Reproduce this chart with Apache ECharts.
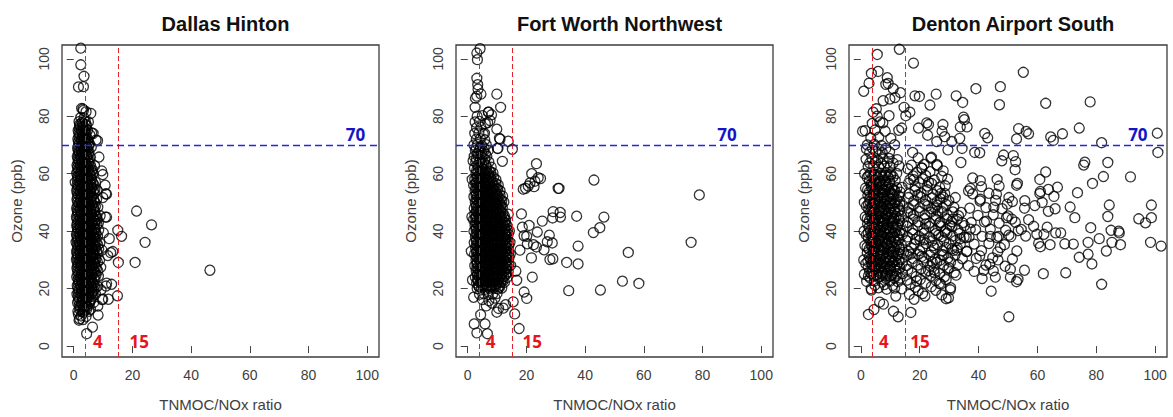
<!DOCTYPE html>
<html>
<head>
<meta charset="utf-8">
<script src="https://cdn.jsdelivr.net/npm/echarts@6/dist/echarts.min.js"></script>
<style>
html,body{margin:0;padding:0;background:#fff;}
#chart{width:1173px;height:417px;}
</style>
</head>
<body>
<div id="chart"></div>
<script>
const titles = ['Dallas Hinton', 'Fort Worth Northwest', 'Denton Airport South'];
const xTicks = [0, 20, 40, 60, 80, 100];
const yTicks = [0, 20, 40, 60, 80, 100];
const ratioThresholds = [4, 15];
const ozoneThreshold = 70;

const dallas = [
[46.4,26.4],[21.4,47.0],[26.5,42.2],[24.3,36.1],[20.9,29.1],[16.3,38.2],[15.0,40.3],[15.2,29.1],[14.9,17.5],[12.6,32.5],
[12.9,21.5],[11.8,16.3],[11.2,44.9],[11.2,52.9],[10.7,56],[9.5,61],[8.6,65.8],[8.1,71.5],[6.1,74.2],[5.8,81],
[2.7,82.7],[3.5,93.9],[2.4,97.9],[1.6,90.2],[3.3,90.3],[2.4,103.7],[4.4,4.3],[6.4,6.6],[8.3,10.8],[5.7,12.8],
[2.0,9.5],[3.3,11.8],[8.2,13.9],[9.3,19.6],[9.6,16.2],[11.2,21.9],[9.9,16.3],[11,20.9],[13.3,32.9],[12.1,37.4],
[10.8,44.9],[9.9,51.7],[11.6,31.5],[3.1,82.5],[6.6,74],[9.9,59.7],[10.9,53],[7.6,71.7],
[1.8,9],[3.1,9.2],[2.5,10.5],[4.2,10.3],[1.6,11],
[1.4,12.2],[2.9,12],[3.8,12.4],[5.1,12.1],[2.2,13.6],[3.5,13.4],[4.6,13.8],
[1.3,15.1],[2.6,15],[3.9,15.3],[5.4,14.9],[6.8,15.2],[1.9,16.6],[3.2,16.4],[4.4,16.7],[5.9,16.5],
[1.1,18],[2.4,18.2],[3.6,17.9],[4.8,18.1],[6.2,18.3],[7.4,18],[1.7,19.6],[2.9,19.4],[4.1,19.7],[5.5,19.5],[6.7,19.4],
[1.2,21],[2.3,21.2],[3.4,20.9],[4.6,21.1],[5.8,21.3],[7.0,21],[8.1,20.8],[1.8,22.6],[2.8,22.4],[3.9,22.7],[5.1,22.5],[6.3,22.3],
[1.0,24.1],[2.2,23.9],[3.3,24.2],[4.4,24],[5.6,24.1],[6.9,23.8],[8.4,24.3],[1.6,25.6],[2.7,25.4],[3.8,25.7],[5.0,25.5],[6.1,25.3],[7.3,25.6],
[1.1,27],[2.1,27.2],[3.2,26.9],[4.3,27.1],[5.4,27.3],[6.6,26.8],[7.8,27.1],[9.2,27.4],[1.5,28.6],[2.6,28.4],[3.7,28.7],[4.9,28.5],[6.0,28.3],[7.1,28.6],
[0.9,30.1],[2.0,29.9],[3.1,30.2],[4.2,30],[5.3,29.8],[6.5,30.1],[7.6,30.3],[8.8,29.9],[1.4,31.6],[2.5,31.4],[3.6,31.7],[4.7,31.5],[5.9,31.3],[7.0,31.6],
[1.0,33],[2.1,33.2],[3.2,32.9],[4.3,33.1],[5.5,33.3],[6.7,32.8],[7.9,33.1],[9.6,33.4],[1.6,34.6],[2.7,34.4],[3.8,34.7],[5.0,34.5],[6.2,34.3],[7.4,34.6],
[0.8,36.1],[1.9,35.9],[3.0,36.2],[4.1,36],[5.2,35.8],[6.4,36.1],[7.7,36.3],[8.9,35.9],[1.3,37.6],[2.4,37.4],[3.5,37.7],[4.6,37.5],[5.8,37.3],[7.0,37.6],
[0.9,39],[2.0,39.2],[3.1,38.9],[4.2,39.1],[5.3,39.3],[6.5,38.8],[7.6,39.1],[10.1,39.4],[1.5,40.6],[2.6,40.4],[3.7,40.7],[4.9,40.5],[6.1,40.3],[7.3,40.6],[8.5,40.4],
[1.0,42.1],[2.1,41.9],[3.2,42.2],[4.3,42],[5.4,41.8],[6.6,42.1],[7.9,42.3],[1.6,43.6],[2.7,43.4],[3.8,43.7],[5.0,43.5],[6.2,43.3],[7.2,43.6],
[0.9,45],[2.0,45.2],[3.1,44.9],[4.2,45.1],[5.3,45.3],[6.5,44.8],[7.7,45.1],[9.0,45.4],[1.4,46.6],[2.5,46.4],[3.6,46.7],[4.7,46.5],[5.9,46.3],[7.0,46.6],
[1.0,48.1],[2.2,47.9],[3.3,48.2],[4.4,48],[5.6,47.8],[6.8,48.1],[8.2,48.3],[1.7,49.6],[2.8,49.4],[3.9,49.7],[5.1,49.5],[6.3,49.3],
[1.1,51],[2.3,51.2],[3.4,50.9],[4.5,51.1],[5.7,51.3],[6.9,50.8],[7.8,51.1],[1.6,52.6],[2.7,52.4],[3.9,52.7],[5.0,52.5],[6.2,52.3],
[1.0,54.1],[2.1,53.9],[3.2,54.2],[4.3,54],[5.5,53.8],[6.7,54.1],[8.0,54.3],[1.5,55.6],[2.6,55.4],[3.7,55.7],[4.9,55.5],[6.0,55.3],
[0.5,57],[2.0,57.2],[3.1,56.9],[4.2,57.1],[5.3,57.3],[6.5,56.8],[7.4,57.1],[1.4,58.6],[2.5,58.4],[3.6,58.7],[4.8,58.5],[6.0,58.3],
[1.0,60.1],[2.1,59.9],[3.2,60.2],[4.3,60],[5.4,59.8],[6.6,60.1],[1.6,61.6],[2.7,61.4],[3.8,61.7],[5.0,61.5],[6.3,61.3],
[1.1,63],[2.2,63.2],[3.3,62.9],[4.4,63.1],[5.6,63.3],[7.1,62.8],[1.7,64.6],[2.8,64.4],[3.9,64.7],[5.0,64.5],
[1.2,66.1],[2.3,65.9],[3.4,66.2],[4.5,66],[5.7,65.8],[1.8,67.6],[2.9,67.4],[4.0,67.7],[5.2,67.5],
[1.3,69],[2.4,69.2],[3.5,68.9],[4.6,69.1],[6.0,69.3],[1.9,70.6],[3.0,70.4],[4.1,70.7],[5.3,70.5],
[1.4,72.1],[2.5,71.9],[3.6,72.2],[4.8,72],[2.0,73.6],[3.1,73.4],[4.2,73.7],[5.5,73.5],
[1.5,75],[2.6,75.2],[3.7,74.9],[4.7,75.1],[2.1,76.6],[3.2,76.4],[4.3,76.7],
[1.8,78.1],[2.8,77.9],[3.9,78.2],[5.0,78],[2.4,79.6],[3.5,79.4],[3.3,82],[4.2,81.6],
[1.9,14.2],[3.0,14.3],[4.2,14.1],
[1.5,17.2],[2.8,17.3],[4.0,17.1],[5.2,17.2],[6.4,17.3],
[1.4,20.2],[2.5,20.3],[3.7,20.1],[4.9,20.2],[6.1,20.3],[7.3,20.1],
[1.5,23.2],[2.6,23.3],[3.7,23.1],[4.8,23.2],[6.0,23.3],[7.2,23.1],
[1.3,26.2],[2.4,26.3],[3.5,26.1],[4.7,26.2],[5.9,26.3],[7.0,26.1],[8.2,26.2],
[1.2,29.2],[2.3,29.3],[3.4,29.1],[4.6,29.2],[5.8,29.3],[7.0,29.1],[8.1,29.2],
[1.1,32.2],[2.2,32.3],[3.3,32.1],[4.5,32.2],[5.7,32.3],[6.8,32.1],[8.0,32.2],
[1.2,35.2],[2.3,35.3],[3.4,35.1],[4.6,35.2],[5.8,35.3],[7.0,35.1],[8.2,35.2],
[1.1,38.2],[2.2,38.3],[3.3,38.1],[4.5,38.2],[5.7,38.3],[6.9,38.1],[8.1,38.2],
[1.2,41.2],[2.3,41.3],[3.4,41.1],[4.6,41.2],[5.8,41.3],[7.0,41.1],
[1.1,44.2],[2.2,44.3],[3.3,44.1],[4.5,44.2],[5.7,44.3],[6.9,44.1],[8.0,44.2],
[1.2,47.2],[2.3,47.3],[3.4,47.1],[4.6,47.2],[5.8,47.3],[7.1,47.1],
[1.3,50.2],[2.4,50.3],[3.5,50.1],[4.7,50.2],[5.9,50.3],[7.2,50.1],
[1.2,53.2],[2.3,53.3],[3.4,53.1],[4.6,53.2],[5.8,53.3],[7.0,53.1],
[1.2,56.2],[2.3,56.3],[3.4,56.1],[4.6,56.2],[5.8,56.3],[6.9,56.1],
[1.3,59.2],[2.4,59.3],[3.5,59.1],[4.7,59.2],[5.9,59.3],
[1.3,62.2],[2.4,62.3],[3.5,62.1],[4.7,62.2],[5.9,62.3],
[1.4,65.2],[2.5,65.3],[3.6,65.1],[4.8,65.2],[1.5,68.2],[2.6,68.3],[3.7,68.1],[4.8,68.2],
[1.6,71.2],[2.7,71.3],[3.8,71.1],[4.9,71.2],[1.7,74.2],[2.8,74.3],[3.9,74.1],[2.0,77.2],[3.1,77.3],[4.2,77.1],
[2.0,12.8],[3.3,12.9],[4.4,12.7],[1.7,15.8],[3.0,15.9],[4.3,15.7],[5.6,15.8],
[1.5,18.8],[2.7,18.9],[3.9,18.7],[5.1,18.8],[6.4,18.9],[1.6,21.8],[2.8,21.9],[4.0,21.7],[5.2,21.8],[6.6,21.9],
[1.4,24.8],[2.6,24.9],[3.8,24.7],[5.0,24.8],[6.3,24.9],[7.6,24.7],[1.3,27.8],[2.5,27.9],[3.7,27.7],[4.9,27.8],[6.2,27.9],[7.4,27.7],
[1.2,30.8],[2.4,30.9],[3.6,30.7],[4.8,30.8],[6.1,30.9],[7.3,30.7],[1.3,33.8],[2.5,33.9],[3.7,33.7],[4.9,33.8],[6.1,33.9],[7.3,33.7],[8.5,33.8],
[1.2,36.8],[2.4,36.9],[3.6,36.7],[4.8,36.8],[6.0,36.9],[7.2,36.7],[1.3,39.8],[2.5,39.9],[3.7,39.7],[4.9,39.8],[6.1,39.9],[7.3,39.7],
[1.2,42.8],[2.4,42.9],[3.6,42.7],[4.8,42.8],[6.0,42.9],[7.2,42.7],[8.4,42.8],[1.3,45.8],[2.5,45.9],[3.7,45.7],[4.9,45.8],[6.1,45.9],[7.3,45.7],
[1.4,48.8],[2.6,48.9],[3.8,48.7],[5.0,48.8],[6.2,48.9],[7.4,48.7],[1.3,51.8],[2.5,51.9],[3.7,51.7],[4.9,51.8],[6.1,51.9],
[1.3,54.8],[2.5,54.9],[3.7,54.7],[4.9,54.8],[6.1,54.9],[7.2,54.7],[1.2,57.8],[2.4,57.9],[3.6,57.7],[4.8,57.8],[6.0,57.9],
[1.4,60.8],[2.6,60.9],[3.8,60.7],[5.0,60.8],[6.0,60.9],[1.5,63.8],[2.7,63.9],[3.9,63.7],[5.1,63.8],
[1.6,66.8],[2.8,66.9],[4.0,66.7],[5.0,66.8],[1.6,69.8],[2.8,69.9],[4.0,69.7],[5.2,69.8],
[1.8,72.8],[3.0,72.9],[4.2,72.7],[1.9,75.8],[3.1,75.9],[4.1,75.7]
];

const fortWorth = [
[78.9,52.6],[76.1,36.1],[58.3,21.8],[54.7,32.6],[52.7,22.6],[46.4,44.9],[45.0,41.2],[42.8,39.5],[43.0,57.8],[45.2,19.5],
[37.6,34.8],[37.6,28.6],[37.1,45.2],[34.4,19.3],[33.7,29.1],[31.1,54.9],[31.6,44.9],[31.5,46.5],[29.1,46.8],[28.9,44.6],
[29.0,30.4],[28.0,30.1],[28.8,35.9],[27.8,38.6],[27.1,36.3],[26.0,33.5],[25.4,43.5],[24.8,58.3],[23.4,63.5],[23.7,39.7],
[23.4,34.5],[22.4,35.3],[22.6,55.5],[21.8,60],[21.2,56.8],[19.7,54.9],[20.9,42.0],[20.1,38.2],[22.0,24.0],[19.2,18.8],
[20.1,16.6],[17.5,6.1],[16.0,11.2],[15.5,15.4],[16.7,22.9],[16.4,26.1],[18.3,46],[18.6,41.4],[17.8,33.4],[19.2,38.4],
[20.3,35.6],[21.7,30.7],[15.2,68.5],[13.8,71.3],[11.0,72],[11.8,64.3],[11.2,83.1],[9.9,87.7],[10.3,68.8],[9.9,75.5],
[8.1,80.5],[7.1,81.4],[6.0,77.4],[5.7,74],[3.3,99.7],[3.1,102],[4.2,103.5],[3.1,93.2],[3.5,89.4],[2.6,86.3],
[4.5,87.7],[9.9,11.8],[6.7,4.3],[3.1,4.6],[2.2,7.7],[5.9,7.7],[4.4,10.9],[10.5,13.1],[12.9,14.4],[12.1,13.2],
[8.3,15],[9.3,16.7],[2.0,17],[3.4,91],[3.1,87],[2.5,83.1],[7.0,81.4],[7.6,78.5],[10.8,72.3],[10.1,68.8],
[24,58.6],[22.9,57.4],[20.6,55.7],[18.9,54.6],[30.8,54.9],[1.4,45],[1.5,58],[1.2,33],[1.8,64.5],[1.6,23],
[5.0,16.2],[7.2,15.8],[6.3,14],
[4.0,18],[5.5,18.2],[7.0,17.9],[8.5,18.1],[10.0,18.3],
[3.2,20],[4.6,20.2],[6.0,19.8],[7.4,20.1],[8.8,20.3],[10.3,19.9],[11.6,20.2],
[3.0,22],[4.3,22.2],[5.7,21.8],[7.1,22.1],[8.5,22.3],[9.9,21.9],[11.2,22.1],[12.5,22.2],
[2.6,24],[3.9,24.2],[5.3,23.8],[6.7,24.1],[8.1,24.3],[9.5,23.9],[10.8,24.1],[12.2,24.2],[13.4,23.9],
[2.9,26],[4.2,26.2],[5.6,25.8],[7.0,26.1],[8.4,26.3],[9.8,25.9],[11.1,26.1],[12.5,26.2],[13.8,25.9],
[2.4,28],[3.7,28.2],[5.1,27.8],[6.5,28.1],[7.9,28.3],[9.3,27.9],[10.6,28.1],[12.0,28.2],[13.3,27.9],[14.6,28.1],
[2.8,30],[4.1,30.2],[5.5,29.8],[6.9,30.1],[8.3,30.3],[9.7,29.9],[11.0,30.1],[12.4,30.2],[13.7,29.9],
[2.3,32],[3.6,32.2],[5.0,31.8],[6.4,32.1],[7.8,32.3],[9.2,31.9],[10.5,32.1],[11.9,32.2],[13.2,31.9],[14.5,32.1],
[2.7,34],[4.0,34.2],[5.4,33.8],[6.8,34.1],[8.2,34.3],[9.6,33.9],[10.9,34.1],[12.3,34.2],[13.6,33.9],
[2.2,36],[3.5,36.2],[4.9,35.8],[6.3,36.1],[7.7,36.3],[9.1,35.9],[10.4,36.1],[11.8,36.2],[13.1,35.9],[14.4,36.1],
[2.6,38],[3.9,38.2],[5.3,37.8],[6.7,38.1],[8.1,38.3],[9.5,37.9],[10.8,38.1],[12.2,38.2],[13.5,37.9],
[2.1,40],[3.4,40.2],[4.8,39.8],[6.2,40.1],[7.6,40.3],[9.0,39.9],[10.3,40.1],[11.7,40.2],[13.0,39.9],[14.2,40.1],
[2.5,42],[3.8,42.2],[5.2,41.8],[6.6,42.1],[8.0,42.3],[9.4,41.9],[10.7,42.1],[12.1,42.2],[13.4,41.9],
[2.0,44],[3.3,44.2],[4.7,43.8],[6.1,44.1],[7.5,44.3],[8.9,43.9],[10.2,44.1],[11.6,44.2],[12.9,43.9],
[2.4,46],[3.7,46.2],[5.1,45.8],[6.5,46.1],[7.9,46.3],[9.3,45.9],[10.6,46.1],[12.0,46.2],[13.8,45.9],
[2.2,48],[3.5,48.2],[4.9,47.8],[6.3,48.1],[7.7,48.3],[9.1,47.9],[10.4,48.1],[11.8,48.2],
[2.6,50],[3.9,50.2],[5.3,49.8],[6.7,50.1],[8.1,50.3],[9.5,49.9],[10.8,50.1],[12.3,50.2],
[2.1,52],[3.4,52.2],[4.8,51.8],[6.2,52.1],[7.6,52.3],[9.0,51.9],[10.3,52.1],[11.9,52.2],
[2.5,54],[3.8,54.2],[5.2,53.8],[6.6,54.1],[8.0,54.3],[9.4,53.9],[11.0,54.1],
[2.0,56],[3.3,56.2],[4.7,55.8],[6.1,56.1],[7.5,56.3],[8.9,55.9],[10.4,56.1],
[2.4,58],[3.7,58.2],[5.1,57.8],[6.5,58.1],[7.9,58.3],[9.6,57.9],
[2.8,60],[4.2,60.2],[5.6,59.8],[7.0,60.1],[8.6,60.3],
[2.3,62],[3.6,62.2],[5.0,61.8],[6.4,62.1],[8.0,62.3],
[2.7,64],[4.1,64.2],[5.5,63.8],[7.2,64.1],
[2.2,66],[3.5,66.2],[4.9,65.8],[6.5,66.1],
[2.6,68],[4.0,68.2],[5.4,67.8],[7.0,68.1],
[2.1,70],[3.4,70.2],[4.8,69.8],[6.3,70.1],
[2.9,72],[4.3,72.2],[5.8,71.8],[2.4,74],[3.8,74.2],[5.3,73.8],
[3.0,76],[4.5,76.2],[2.5,78],[4.0,78.2],[6.8,77.8],[3.2,80],[5.0,80.2],
[3.7,21],[5.1,21.1],[6.5,20.9],[7.9,21],[9.3,21.1],[10.7,20.9],
[3.3,23],[4.7,23.1],[6.1,22.9],[7.5,23],[8.9,23.1],[10.3,22.9],[11.7,23],
[3.3,25],[4.7,25.1],[6.1,24.9],[7.5,25],[8.9,25.1],[10.3,24.9],[11.7,25],[13.0,25.1],
[3.1,27],[4.5,27.1],[5.9,26.9],[7.3,27],[8.7,27.1],[10.1,26.9],[11.5,27],[12.9,27.1],
[3.2,29],[4.6,29.1],[6.0,28.9],[7.4,29],[8.8,29.1],[10.2,28.9],[11.6,29],[13.0,29.1],
[3.0,31],[4.4,31.1],[5.8,30.9],[7.2,31],[8.6,31.1],[10.0,30.9],[11.4,31],[12.8,31.1],[14.1,30.9],
[3.1,33],[4.5,33.1],[5.9,32.9],[7.3,33],[8.7,33.1],[10.1,32.9],[11.5,33],[12.9,33.1],
[2.9,35],[4.3,35.1],[5.7,34.9],[7.1,35],[8.5,35.1],[9.9,34.9],[11.3,35],[12.7,35.1],[14.0,34.9],
[3.0,37],[4.4,37.1],[5.8,36.9],[7.2,37],[8.6,37.1],[10.0,36.9],[11.4,37],[12.8,37.1],
[2.8,39],[4.2,39.1],[5.6,38.9],[7.0,39],[8.4,39.1],[9.8,38.9],[11.2,39],[12.6,39.1],[13.8,38.9],
[2.9,41],[4.3,41.1],[5.7,40.9],[7.1,41],[8.5,41.1],[9.9,40.9],[11.3,41],[12.7,41.1],
[2.7,43],[4.1,43.1],[5.5,42.9],[6.9,43],[8.3,43.1],[9.7,42.9],[11.1,43],[12.5,43.1],
[2.9,45],[4.3,45.1],[5.7,44.9],[7.1,45],[8.5,45.1],[9.9,44.9],[11.3,45],[12.6,45.1],
[2.9,47],[4.3,47.1],[5.7,46.9],[7.1,47],[8.5,47.1],[9.9,46.9],[11.2,47],
[3.0,49],[4.4,49.1],[5.8,48.9],[7.2,49],[8.6,49.1],[10.0,48.9],[11.4,49],
[2.8,51],[4.2,51.1],[5.6,50.9],[7.0,51],[8.4,51.1],[9.8,50.9],[11.1,51],
[3.0,53],[4.4,53.1],[5.8,52.9],[7.2,53],[8.6,53.1],[10.0,52.9],
[2.7,55],[4.1,55.1],[5.5,54.9],[6.9,55],[8.3,55.1],[9.7,54.9],
[3.0,57],[4.4,57.1],[5.8,56.9],[7.2,57],[8.6,57.1],[3.4,59],[4.8,59.1],[6.2,58.9],[7.6,59],
[3.0,61],[4.4,61.1],[5.8,60.9],[7.3,61],[3.4,63],[4.8,63.1],[6.2,62.9],
[2.9,65],[4.3,65.1],[5.8,64.9],[3.3,67],[4.7,67.1],[6.0,66.9],[2.8,69],[4.2,69.1],[5.6,68.9],
[3.9,20.6],[5.3,20.7],[6.7,20.5],[8.1,20.6],[9.5,20.7],[10.9,20.5],
[3.6,22.6],[5.0,22.7],[6.4,22.5],[7.8,22.6],[9.2,22.7],[10.6,22.5],[12.0,22.6],
[3.3,24.6],[4.6,24.7],[6.0,24.5],[7.4,24.6],[8.8,24.7],[10.2,24.5],[11.5,24.6],[12.9,24.7],
[3.6,26.6],[4.9,26.7],[6.3,26.5],[7.7,26.6],[9.1,26.7],[10.5,26.5],[11.8,26.6],[13.2,26.7],
[3.1,28.6],[4.4,28.7],[5.8,28.5],[7.2,28.6],[8.6,28.7],[10.0,28.5],[11.3,28.6],[12.7,28.7],[14.0,28.5],
[3.5,30.6],[4.8,30.7],[6.2,30.5],[7.6,30.6],[9.0,30.7],[10.4,30.5],[11.7,30.6],[13.1,30.7],
[3.0,32.6],[4.3,32.7],[5.7,32.5],[7.1,32.6],[8.5,32.7],[9.9,32.5],[11.2,32.6],[12.6,32.7],[13.9,32.5],
[3.4,34.6],[4.7,34.7],[6.1,34.5],[7.5,34.6],[8.9,34.7],[10.3,34.5],[11.6,34.6],[13.0,34.7],
[2.9,36.6],[4.2,36.7],[5.6,36.5],[7.0,36.6],[8.4,36.7],[9.8,36.5],[11.1,36.6],[12.5,36.7],[13.8,36.5],
[3.3,38.6],[4.6,38.7],[6.0,38.5],[7.4,38.6],[8.8,38.7],[10.2,38.5],[11.5,38.6],[12.9,38.7],
[2.8,40.6],[4.1,40.7],[5.5,40.5],[6.9,40.6],[8.3,40.7],[9.7,40.5],[11.0,40.6],[12.4,40.7],[13.6,40.5],
[3.2,42.6],[4.5,42.7],[5.9,42.5],[7.3,42.6],[8.7,42.7],[10.1,42.5],[11.4,42.6],[12.8,42.7],
[2.7,44.6],[4.0,44.7],[5.4,44.5],[6.8,44.6],[8.2,44.7],[9.6,44.5],[10.9,44.6],[12.3,44.7],
[3.1,46.6],[4.4,46.7],[5.8,46.5],[7.2,46.6],[8.6,46.7],[10.0,46.5],[11.3,46.6],
[2.9,48.6],[4.2,48.7],[5.6,48.5],[7.0,48.6],[8.4,48.7],[9.8,48.5],[11.1,48.6],
[3.3,50.6],[4.6,50.7],[6.0,50.5],[7.4,50.6],[8.8,50.7],[10.2,50.5],[11.6,50.6],
[2.8,52.6],[4.1,52.7],[5.5,52.5],[6.9,52.6],[8.3,52.7],[9.7,52.5],[11.0,52.6],
[3.2,54.6],[4.5,54.7],[5.9,54.5],[7.3,54.6],[8.7,54.7],[10.2,54.5],
[2.7,56.6],[4.0,56.7],[5.4,56.5],[6.8,56.6],[8.2,56.7],[9.6,56.5],
[3.1,58.6],[4.4,58.7],[5.8,58.5],[7.2,58.6],[8.8,58.7],[3.5,60.6],[4.9,60.7],[6.3,60.5],[7.8,60.6]
];

const denton = [
[104.1,49.8],[102,34.8],[100.7,74.1],[100.9,67.4],[98.4,36.1],[98.7,49.1],[98.7,44.7],[96.7,42.9],[94.4,44.3],[91.6,58.9],
[87.8,39.4],[88.2,35.3],[87.6,40],[85.3,36.1],[85.0,40.3],[84.4,49.1],[83.9,45.1],[83.4,33.1],[83.9,63.9],[82.4,59.0],
[81.8,70.8],[81.8,21.5],[81,37.4],[77.9,85.0],[78.7,56.6],[78.5,28.6],[78.1,41.2],[77.2,32.0],[77.2,36.1],[76.1,64.0],
[75.7,63.0],[74.2,75.9],[74.2,30.9],[73.6,53.4],[72.2,35.5],[72.7,44.7],[71.1,48.4],[69.6,25.5],[68.5,73.9],[69.3,35.6],
[67.9,39.4],[66.8,55.3],[66.2,39.4],[66.0,47.8],[65.6,52.1],[65.4,71.6],[64.5,72.8],[64.3,35.3],[62.8,84.5],[62.8,60.6],
[63.7,54.5],[63.7,46.9],[63.3,41.4],[62.2,38.9],[62.0,25.2],[61.6,50.0],[60.8,53.1],[60.8,58.0],[61.0,53.8],[61.0,34.6],
[60.4,35.8],[59.8,38.9],[59.1,48.9],[58.7,41.7],[57.0,44.0],[57.0,73.9],[56.2,74.7],[55.6,26.4],[55.7,50.6],[55.2,95.3],
[55.6,48.0],[53.6,75.7],[52.9,72.1],[53.5,40.2],[53.2,56.6],[52.9,56],[52.6,64.2],[52.9,22.4],[53.4,23.2],[52.4,61.4],
[51.8,66.3],[51.3,44.2],[50.8,24.0],[50.3,10.2],[50.8,26.7],[50.3,38.6],[49.7,49.4],[49.5,44.7],[50.3,51.7],[48.5,66.5],
[47.9,64.5],[47.4,90.3],[47.1,84.0],[47.4,34.3],[46.8,38.2],[46.6,30.0],[46.3,58.0],[46.1,52.9],[45.7,24.0],[45.2,48.3],
[44.3,19.1],[43.8,28.5],[44.0,38.2],[43.1,72.5],[42.1,74.0],[42.7,43.5],[41.8,26.4],[41.2,23.5],[40.6,51.1],[40.4,67.3],
[40.4,31.4],[40.6,57.6],
[39.1,89.6],[38.7,67.4],[38.0,58.5],[37.2,54.9],[36.6,54.0],[36.1,76.3],[35.8,37.8],[34.9,79.7],[35.2,78.8],[34.6,84.8],
[34.4,68.8],[34.0,63.9],[34.1,46.5],[33.8,76.3],[33.6,72.3],[32.4,87.1],[32.6,33.4],[32.4,24.7],[32.1,51.7],[31.3,44.2],
[30.9,71.2],[30.4,19.6],[29.8,16.8],[29.0,16.5],[29.6,68.3],[28.7,55.8],[28.5,72.9],[28.1,31.7],[27.9,77.1],[27.6,74.8],
[27.2,53.1],[26.7,21.8],[26.4,38.6],[25.6,87.7],[25.8,71.2],[25.8,63.2],[25.2,48.0],[25.0,25.5],[23.8,65.4],[23.5,83.9],
[23.0,77.1],[22.7,73.4],[22.4,77.7],[21.8,17.4],[20.7,62.0],[19.9,86.9],[19.6,75.9],[18.4,87.1],[17.9,98.5],[18.1,16.3],
[17.6,67.4],[17.0,11.7],[16.7,81.4],[15.3,80.2],[14.7,83.1],[13.9,75.9],[13.5,88.2],[13.1,103.3],[12.7,10.2],[11.9,17.4],
[11.6,86.5],[11.0,89.6],[9.9,86.0],[9.0,93.4],[9.3,91.4],[8.5,91.1],[7.6,85.4],[5.9,95.6],[5.6,101.5],[3.6,94.9],
[2.8,91.5],[1.0,88.7],[0.6,74.8],[2.6,11.0],[4.5,12.7],[6.4,15.3],[7.7,14.6],[11.1,12.1],[3.6,19.5],[4.2,81.4],
[5.3,82.6],[6.5,78.0],
[3.5,20],[6.0,20.3],[8.8,19.8],[11.5,20.2],[13.9,19.9],
[2.0,22.5],[4.6,22.7],[7.2,22.3],[9.9,22.6],[12.6,22.4],
[1.2,25],[3.6,25.2],[5.4,24.8],[7.1,25.1],[8.9,25.3],[10.6,24.9],[12.4,25.1],[14.2,25.2],
[2.5,27.5],[4.4,27.7],[6.2,27.3],[8.0,27.6],[9.8,27.4],[11.5,27.7],[13.3,27.3],
[1.0,30],[3.3,30.2],[5.0,29.8],[6.7,30.1],[8.4,30.3],[10.2,29.9],[11.9,30.1],[13.7,30.2],
[2.2,32.5],[4.1,32.7],[5.9,32.3],[7.6,32.6],[9.3,32.4],[11.0,32.7],[12.8,32.3],[14.5,32.6],
[1.4,35],[3.5,35.2],[5.2,34.8],[6.9,35.1],[8.7,35.3],[10.4,34.9],[12.1,35.1],[13.8,35.2],
[2.6,37.5],[4.3,37.7],[6.0,37.3],[7.8,37.6],[9.5,37.4],[11.3,37.7],[13.0,37.3],
[1.1,40],[3.2,40.2],[4.9,39.8],[6.6,40.1],[8.3,40.3],[10.1,39.9],[11.8,40.1],[13.6,40.2],
[2.3,42.5],[4.0,42.7],[5.7,42.3],[7.4,42.6],[9.2,42.4],[10.9,42.7],[12.6,42.3],[14.3,42.6],
[1.5,45],[3.4,45.2],[5.1,44.8],[6.8,45.1],[8.6,45.3],[10.3,44.9],[12.0,45.1],[13.7,45.2],
[2.7,47.5],[4.5,47.7],[6.2,47.3],[7.9,47.6],[9.7,47.4],[11.4,47.7],[13.2,47.3],
[1.2,50],[3.1,50.2],[4.8,49.8],[6.5,50.1],[8.2,50.3],[10.0,49.9],[11.7,50.1],[13.5,50.2],
[2.4,52.5],[4.2,52.7],[5.9,52.3],[7.6,52.6],[9.4,52.4],[11.1,52.7],[12.9,52.3],
[1.6,55],[3.6,55.2],[5.3,54.8],[7.0,55.1],[8.8,55.3],[10.5,54.9],[12.3,55.1],[14.0,55.2],
[2.9,57.5],[4.7,57.7],[6.4,57.3],[8.1,57.6],[9.9,57.4],[11.7,57.7],
[1.3,60],[3.3,60.2],[5.0,59.8],[6.8,60.1],[8.5,60.3],[10.3,59.9],[12.2,60.1],
[2.5,62.5],[4.4,62.7],[6.2,62.3],[8.0,62.6],[10.0,62.4],[13.0,62.7],
[1.8,65],[3.8,65.2],[5.7,64.8],[7.6,65.1],[9.6,65.3],[12.4,64.9],
[3.0,67.5],[5.1,67.7],[7.3,67.3],[9.8,67.6],[2.2,70],[4.6,70.2],[7.0,69.8],[11.5,70.1],
[3.4,72.5],[6.1,72.7],[10.2,72.3],[1.5,75],[4.8,75.2],[8.3,74.8],[12.9,75.1],[3.9,77.5],[7.5,77.7],[5.6,80],[9.6,80.2],
[3.9,26.2],[6.0,26.4],[8.1,26.1],[10.2,26.3],[4.5,31.2],[6.6,31.4],[8.7,31.1],[10.8,31.3],
[4.0,36.2],[6.1,36.4],[8.2,36.1],[10.3,36.3],[4.6,41.2],[6.7,41.4],[8.8,41.1],[10.9,41.3],
[4.1,46.2],[6.2,46.4],[8.3,46.1],[10.4,46.3],[4.7,51.2],[6.8,51.4],[8.9,51.1],[4.2,56.2],[6.3,56.4],[8.4,56.1],
[4.8,21.2],[8.0,21.4],[10.8,21.1],
[3.2,23.7],[5.9,23.9],[8.5,23.6],[11.3,23.8],[13.4,23.7],
[1.7,28.7],[3.6,28.9],[5.3,28.6],[7.0,28.8],[8.8,28.7],[10.6,28.9],[12.4,28.6],[14.0,28.8],
[2.8,33.7],[4.6,33.9],[6.3,33.6],[8.0,33.8],[9.8,33.7],[11.6,33.9],[13.3,33.6],
[1.9,38.7],[3.7,38.9],[5.4,38.6],[7.1,38.8],[8.9,38.7],[10.7,38.9],[12.4,38.6],[14.1,38.8],
[2.9,43.7],[4.6,43.9],[6.3,43.6],[8.0,43.8],[9.8,43.7],[11.5,43.9],[13.2,43.6],
[1.9,48.7],[3.8,48.9],[5.5,48.6],[7.2,48.8],[8.9,48.7],[10.7,48.9],[12.5,48.6],[14.2,48.8],
[2.9,53.7],[4.7,53.9],[6.4,53.6],[8.1,53.8],[9.9,53.7],[11.7,53.9],[13.4,53.6],
[2.2,58.7],[4.0,58.9],[5.8,58.6],[7.5,58.8],[9.3,58.7],[11.0,58.9],
[3.0,63.7],[5.0,63.9],[7.0,63.6],[9.0,63.8],[11.0,63.7],[1.9,68.7],[4.0,68.9],[6.0,68.6],[8.5,68.8],
[2.6,24.4],[4.4,24.5],[6.6,24.3],[8.4,24.4],[10.0,24.5],[12.0,24.3],
[2.4,29.4],[4.2,29.5],[6.0,29.3],[7.8,29.4],[9.5,29.5],[11.3,29.3],[13.0,29.4],
[2.1,34.4],[4.0,34.5],[5.8,34.3],[7.6,34.4],[9.4,34.5],[11.2,34.3],[13.0,34.4],
[2.5,39.4],[4.3,39.5],[6.1,39.3],[7.9,39.4],[9.7,39.5],[11.5,39.3],[13.2,39.4],
[2.2,44.4],[4.0,44.5],[5.8,44.3],[7.6,44.4],[9.4,44.5],[11.2,44.3],[12.9,44.4],
[2.6,49.4],[4.4,49.5],[6.2,49.3],[8.0,49.4],[9.8,49.5],[11.6,49.3],[13.3,49.4],
[2.3,54.4],[4.1,54.5],[5.9,54.3],[7.7,54.4],[9.5,54.5],[11.3,54.3],
[2.7,59.4],[4.6,59.5],[6.5,59.3],[8.3,59.4],[10.1,59.5],
[3.0,26.0],[5.1,27.0],[7.4,25.6],[9.3,26.8],[11.9,26.2],[2.9,31.0],[5.5,30.7],[7.3,31.6],[9.6,30.8],[12.2,31.5],
[3.4,36.4],[5.3,35.9],[7.2,36.6],[9.0,35.7],[11.8,36.4],[2.8,41.3],[5.5,40.8],[7.6,41.6],[9.5,40.9],[12.1,41.4],
[3.2,46.6],[5.3,46.0],[7.1,46.8],[9.2,46.1],[11.6,46.7],[3.1,51.4],[5.6,51.0],[7.9,51.6],[10.1,51.3],[12.3,51.0],
[3.5,56.3],[5.4,56.9],[7.4,56.2],[9.8,56.6],
[3.9,28.3],[6.8,28.0],[10.0,27.8],[4.3,33.0],[7.0,33.4],[10.5,32.8],[3.8,38.0],[6.9,38.3],[10.1,38.0],
[4.4,43.2],[7.7,43.0],[10.6,43.4],[3.7,48.0],[6.6,48.2],[9.9,48.0],[4.5,53.1],[7.3,53.3],[10.6,53.0],
[16.5,18],[21.0,18.3],[27.5,17.8],[18.5,20.5],[24.0,20.7],[30.5,20.3],
[15.8,23],[20.2,23.2],[25.5,22.8],[29.0,23.1],[17.3,25.5],[22.1,25.7],[26.8,25.3],[31.8,25.6],
[15.5,28],[19.4,28.2],[23.6,27.8],[28.2,28.1],[33.0,28.3],[17.8,30.5],[21.5,30.7],[25.3,30.3],[29.6,30.6],[34.5,30.4],
[16.2,33],[20.0,33.2],[23.9,32.8],[27.7,33.1],[31.5,33.3],[36.0,32.9],[18.2,35.5],[22.2,35.7],[26.1,35.3],[30.0,35.6],[33.8,35.4],
[15.9,38],[19.8,38.2],[23.5,37.8],[27.4,38.1],[31.2,38.3],[35.1,37.9],[17.6,40.5],[21.4,40.7],[25.3,40.3],[29.1,40.6],[33.0,40.4],[37.2,40.7],
[16.0,43],[19.5,43.2],[23.3,42.8],[27.0,43.1],[30.8,43.3],[34.6,42.9],[17.9,45.5],[21.8,45.7],[25.6,45.3],[29.4,45.6],[33.2,45.4],
[16.3,48],[20.1,48.2],[24.0,47.8],[27.8,48.1],[31.6,48.3],[18.0,50.5],[22.0,50.7],[25.9,50.3],[29.9,50.6],
[16.5,53],[20.5,53.2],[24.5,52.8],[28.5,53.1],[18.5,55.5],[22.5,55.7],[26.8,55.3],
[16.8,58],[21.0,58.2],[25.0,57.8],[29.5,58.1],[19.0,60.5],[23.5,60.7],[17.2,63],[21.5,63.2],[26.0,62.8],[19.5,65.5],[24.0,65.7],
[19.5,19.2],[25.5,19.4],[16.8,21.7],[22.0,21.9],[27.2,21.6],[18.8,24.2],[23.8,24.4],[28.4,24.1],
[16.0,26.7],[20.4,26.9],[24.9,26.6],[29.5,26.8],[17.5,29.2],[21.4,29.4],[25.8,29.1],[30.5,29.3],
[15.8,31.7],[19.6,31.9],[23.4,31.6],[27.6,31.8],[32.0,31.7],[17.2,34.2],[21.0,34.4],[25.0,34.1],[28.9,34.3],[32.8,34.2],
[15.6,36.7],[20.1,36.9],[24.2,36.6],[28.2,36.8],[32.1,36.7],[17.6,39.2],[21.6,39.4],[25.5,39.1],[29.3,39.3],[33.6,39.2],
[15.7,41.7],[19.4,41.9],[23.2,41.6],[27.2,41.8],[31.0,41.7],[35.2,41.9],[17.8,44.2],[21.6,44.4],[25.4,44.1],[29.2,44.3],[32.8,44.2],
[15.9,46.7],[19.9,46.9],[23.8,46.6],[27.6,46.8],[31.3,46.7],[17.9,49.2],[21.7,49.4],[25.8,49.1],[29.0,49.3],
[16.2,51.7],[20.3,51.9],[24.2,51.6],[28.0,51.8],[18.4,54.2],[22.6,54.4],[26.0,54.1],
[16.2,56.7],[20.0,56.9],[24.0,56.6],[17.8,59.2],[22.0,59.4],[27.5,59.1],[16.0,61.7],[20.8,61.9],
[19.0,22.7],[23.0,26.3],[27.0,29.9],[31.0,33.9],[20.7,31.2],[24.6,35.0],[28.6,39.8],[22.0,42.5],[26.2,47.0],[30.3,42.0],
[18.6,37.1],[22.8,48.9],[19.3,52.6],[27.0,51.3],[17.0,46.2],[24.3,29.2],[30.0,27.2],[33.8,37.4],[16.9,32.0],[21.5,37.0],
[26.7,42.9],[23.0,57.0],[28.0,61.0],[18.0,57.9],
[38.5,26],[45.0,26.2],[36.5,28],[42.5,28.2],[49.0,27.8],[39.2,30.5],[44.8,30.7],[51.5,30.3],
[36.0,33],[41.0,33.2],[46.5,32.8],[53.0,33.1],[38.5,35.5],[43.5,35.7],[48.8,35.3],
[36.8,38],[41.2,38.2],[46.2,37.8],[51.0,38.1],[56.0,38.3],[39.0,40.5],[44.0,40.7],[49.2,40.3],[54.5,40.6],
[37.5,43],[42.0,43.2],[47.0,42.8],[52.5,43.1],[39.8,45.5],[45.0,45.7],[50.0,45.3],
[37.0,48],[42.5,48.2],[48.0,47.8],[40.5,50.5],[45.8,50.7],[51.5,50.3],[38.0,53],[43.5,53.2],[41.0,55.5],[47.0,55.7]
];

const panels = [dallas, fortWorth, denton];
const FONT = '"Liberation Sans", Arial, sans-serif';

const grids = [
  {left: 62, top: 45, width: 317, height: 317},
  {left: 456, top: 45, width: 317, height: 317},
  {left: 849, top: 45, width: 318, height: 317}
];
const labelPos = [
  {four: 8.2, fifteen: 22.3, seventy: 96},
  {four: 7.8, fifteen: 22.0, seventy: 88.3},
  {four: 7.8, fifteen: 20.1, seventy: 94.1}
];

const option = {
  animation: false,
  backgroundColor: '#fff',
  title: titles.map((t, i) => ({
    text: t,
    left: grids[i].left + grids[i].width / 2,
    top: 9,
    textAlign: 'center',
    textStyle: {fontFamily: FONT, fontSize: 20, fontWeight: 'bold', color: '#111'}
  })),
  grid: grids.map(g => Object.assign({show: true, borderColor: '#3c3c3c', borderWidth: 1.3, backgroundColor: 'transparent'}, g)),
  xAxis: grids.map((g, i) => ({
    type: 'value', gridIndex: i, min: -4, max: 104,
    name: 'TNMOC/NOx ratio', nameLocation: 'middle', nameGap: 40,
    nameTextStyle: {fontFamily: FONT, fontSize: 15, color: '#404040'},
    axisLine: {show: false},
    splitLine: {show: false},
    axisTick: {show: true, inside: false, length: 7, customValues: xTicks, lineStyle: {color: '#444', width: 1}},
    axisLabel: {customValues: xTicks, fontFamily: FONT, fontSize: 14, color: '#404040', margin: 11}
  })),
  yAxis: grids.map((g, i) => ({
    type: 'value', gridIndex: i, min: -3.8, max: 104.8,
    name: 'Ozone (ppb)', nameLocation: 'middle', nameGap: 38,
    nameTextStyle: {fontFamily: FONT, fontSize: 15, color: '#404040'},
    axisLine: {show: false},
    splitLine: {show: false},
    axisTick: {show: true, inside: false, length: 7, customValues: yTicks, lineStyle: {color: '#444', width: 1}},
    axisLabel: {customValues: yTicks, rotate: 90, fontFamily: FONT, fontSize: 14, color: '#404040', margin: 11}
  })),
  series: []
};

panels.forEach((pts, i) => {
  option.series.push({
    type: 'scatter', xAxisIndex: i, yAxisIndex: i, data: pts,
    symbol: 'circle', symbolSize: 10, silent: true, large: false,
    itemStyle: {color: 'rgba(0,0,0,0)', borderColor: '#000', borderWidth: 1.3},
    emphasis: {disabled: true},
    markLine: {
      silent: true, symbol: ['none', 'none'], label: {show: false},
      data: [
        {xAxis: ratioThresholds[0], lineStyle: {color: '#e3222b', type: [5, 3], width: 1}},
        {xAxis: ratioThresholds[1], lineStyle: {color: '#e3222b', type: [5, 3], width: 1}},
        {yAxis: ozoneThreshold, lineStyle: {color: '#2626e0', type: [7, 4], width: 1.3}}
      ]
    }
  });
  const lp = labelPos[i];
  option.series.push({
    type: 'scatter', xAxisIndex: i, yAxisIndex: i, silent: true,
    symbolSize: 1, itemStyle: {color: 'rgba(0,0,0,0)'},
    data: [
      {value: [lp.four, 1.5], label: {formatter: String(ratioThresholds[0]), color: '#e8141c'}},
      {value: [lp.fifteen, 1.5], label: {formatter: String(ratioThresholds[1]), color: '#e8141c'}},
      {value: [lp.seventy, 73.6], label: {formatter: String(ozoneThreshold), color: '#1414c8'}}
    ],
    label: {show: true, position: 'inside', fontFamily: '"Open Sans", ' + FONT, fontSize: 17, fontWeight: 'bold',
            textBorderWidth: 0, textBorderColor: 'transparent', opacity: 1}
  });
});

const chart = echarts.init(document.getElementById('chart'), null, {renderer: 'svg'});
chart.setOption(option);
</script>
</body>
</html>
